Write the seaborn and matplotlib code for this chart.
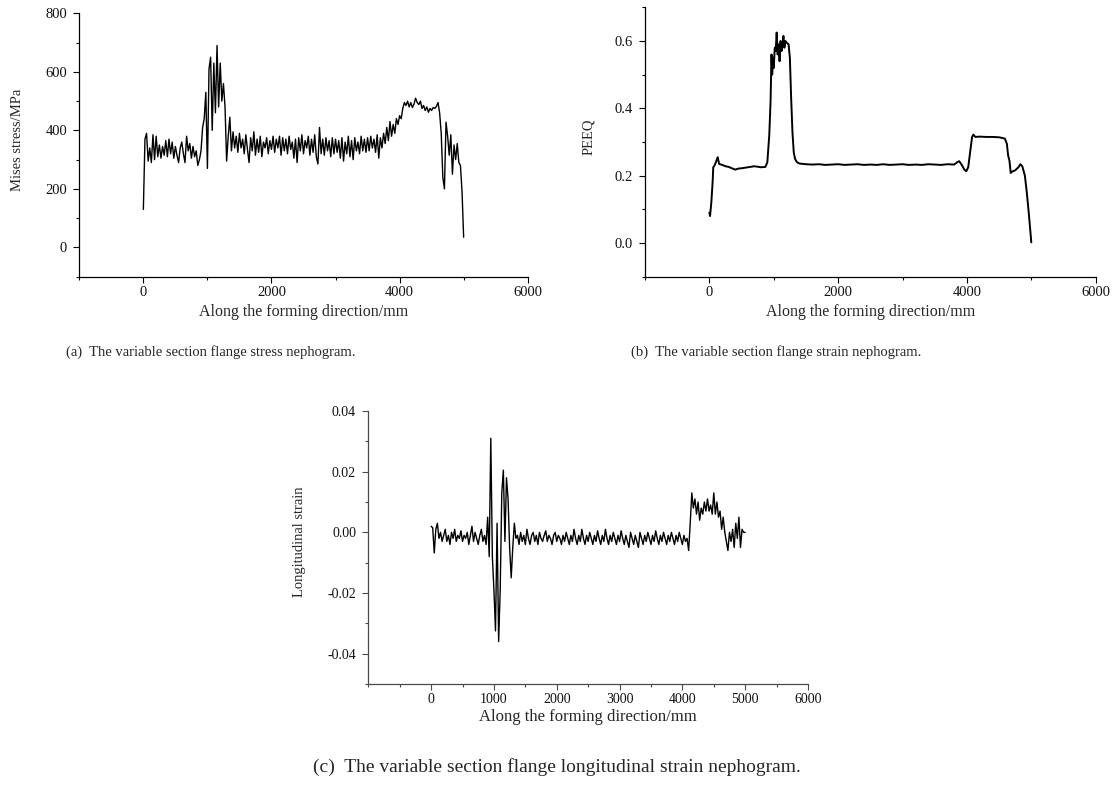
import matplotlib
matplotlib.use("Agg")
import matplotlib.pyplot as plt
import seaborn as sns
from matplotlib.ticker import MultipleLocator, FixedLocator, FormatStrFormatter

# Stations along the forming direction (mm), shared by stress and longitudinal strain
stations_mm = [
    0, 25, 50, 75, 100, 125, 150, 175, 200, 225, 250, 275, 300, 325, 350, 375, 400, 425, 450, 475,
    500, 525, 550, 575, 600, 625, 650, 675, 700, 725, 750, 775, 800, 825, 850, 875, 900, 925, 950, 975,
    1000, 1025, 1050, 1075, 1100, 1125, 1150, 1175, 1200, 1225, 1250, 1275, 1300, 1325, 1350, 1375, 1400, 1425, 1450, 1475,
    1500, 1525, 1550, 1575, 1600, 1625, 1650, 1675, 1700, 1725, 1750, 1775, 1800, 1825, 1850, 1875, 1900, 1925, 1950, 1975,
    2000, 2025, 2050, 2075, 2100, 2125, 2150, 2175, 2200, 2225, 2250, 2275, 2300, 2325, 2350, 2375, 2400, 2425, 2450, 2475,
    2500, 2525, 2550, 2575, 2600, 2625, 2650, 2675, 2700, 2725, 2750, 2775, 2800, 2825, 2850, 2875, 2900, 2925, 2950, 2975,
    3000, 3025, 3050, 3075, 3100, 3125, 3150, 3175, 3200, 3225, 3250, 3275, 3300, 3325, 3350, 3375, 3400, 3425, 3450, 3475,
    3500, 3525, 3550, 3575, 3600, 3625, 3650, 3675, 3700, 3725, 3750, 3775, 3800, 3825, 3850, 3875, 3900, 3925, 3950, 3975,
    4000, 4025, 4050, 4075, 4100, 4125, 4150, 4175, 4200, 4225, 4250, 4275, 4300, 4325, 4350, 4375, 4400, 4425, 4450, 4475,
    4500, 4525, 4550, 4575, 4600, 4625, 4650, 4675, 4700, 4725, 4750, 4775, 4800, 4825, 4850, 4875, 4900, 4925, 4950, 4975,
    5000,
]

# (a) Mises stress, MPa
mises_mpa = [
    130, 370, 390, 295, 340, 290, 385, 300, 380, 310, 350, 305, 345, 315, 365, 310, 370, 320, 360, 305,
    345, 315, 290, 340, 360, 320, 290, 380, 330, 355, 305, 345, 310, 330, 280, 300, 330, 410, 440, 530,
    270, 610, 650, 400, 630, 460, 690, 480, 630, 500, 560, 480, 295, 380, 445, 330, 395, 340, 380, 325,
    390, 340, 370, 320, 385, 335, 290, 375, 330, 395, 315, 370, 325, 380, 310, 360, 340, 375, 320, 365,
    335, 380, 325, 370, 340, 380, 315, 375, 330, 370, 320, 380, 335, 360, 305, 370, 290, 375, 330, 385,
    320, 365, 340, 380, 315, 370, 325, 385, 310, 285, 410, 320, 370, 315, 375, 330, 365, 310, 375, 320,
    370, 325, 365, 305, 375, 295, 360, 320, 380, 310, 365, 300, 375, 330, 360, 320, 380, 330, 370, 325,
    375, 330, 380, 340, 370, 325, 385, 305, 375, 340, 390, 355, 410, 365, 430, 380, 420, 390, 440, 420,
    450, 440, 475, 495, 485, 500, 480, 495, 478, 490, 510, 495, 488, 500, 475, 485, 468, 480, 462, 475,
    468, 478, 475, 482, 495, 460, 390, 240, 200, 428, 380, 315, 385, 250, 350, 300, 355, 290, 280, 190,
    35,
]

# (c) Longitudinal strain
long_strain = [
    0.002, 0.0015, -0.0068, 0.001, 0.003, -0.002, 0.0, -0.003, -0.001, 0.001, -0.003, -0.001, -0.004, 0.0, -0.002, 0.001, -0.003, -0.001, -0.002, 0.0005,
    -0.003, -0.001, -0.002, 0.0, -0.004, -0.001, 0.002, -0.003, 0.0, -0.002, -0.004, -0.001, 0.001, -0.003, -0.001, -0.004, 0.005, -0.008, 0.031, -0.008,
    -0.019, -0.0325, 0.003, -0.036, -0.019, 0.013, 0.0205, -0.003, 0.018, 0.011, -0.005, -0.015, -0.005, 0.003, -0.002, -0.001, -0.004, 0.0, -0.003, -0.001,
    -0.004, 0.001, -0.002, -0.004, -0.001, 0.0, -0.003, -0.001, -0.004, 0.0, -0.002, -0.003, -0.001, 0.0005, -0.003, -0.001, -0.002, -0.004, -0.001, 0.0,
    -0.003, -0.001, -0.002, -0.004, -0.001, -0.003, 0.0, -0.002, -0.004, -0.001, -0.003, 0.001, -0.002, -0.004, -0.001, -0.003, 0.001, -0.002, -0.004, -0.001,
    -0.003, 0.0, -0.002, -0.004, -0.001, -0.003, 0.0005, -0.002, -0.004, -0.001, -0.003, 0.001, -0.002, -0.004, -0.001, -0.003, 0.0, -0.002, -0.004, -0.001,
    -0.003, 0.0005, -0.002, -0.004, -0.001, -0.003, -0.005, 0.0, -0.002, -0.004, -0.001, -0.003, -0.005, 0.0, -0.002, -0.004, -0.001, -0.003, 0.0, -0.002,
    -0.004, -0.001, -0.003, 0.0005, -0.002, -0.004, -0.001, -0.003, 0.0, -0.002, -0.004, -0.001, -0.003, 0.0, -0.002, -0.004, -0.001, -0.003, 0.0, -0.002,
    -0.004, -0.001, -0.003, -0.002, -0.006, 0.003, 0.013, 0.008, 0.011, 0.006, 0.010, 0.004, 0.008, 0.006, 0.010, 0.007, 0.011, 0.007, 0.009, 0.006,
    0.013, 0.006, 0.010, 0.005, 0.007, 0.001, 0.005, 0.0, -0.003, -0.006, 0.0, -0.003, 0.001, -0.005, 0.003, -0.002, 0.005, -0.005, 0.001, 0.0,
    0.0,
]

# (b) PEEQ, sampled on its own stations
peeq_mm = [
    0, 10, 30, 50, 60, 80, 100, 130, 150, 200, 250, 300, 350, 400, 450, 500, 600, 700, 800, 870,
    900, 930, 950, 965, 975, 990, 1000, 1015, 1030, 1045, 1060, 1075, 1090, 1105, 1120, 1135, 1150, 1165, 1180, 1200,
    1230, 1250, 1270, 1290, 1310, 1330, 1360, 1400, 1500, 1600, 1700, 1800, 1900, 2000, 2100, 2200, 2300, 2400, 2500, 2600,
    2700, 2800, 2900, 3000, 3100, 3200, 3300, 3400, 3500, 3600, 3700, 3800, 3850, 3880, 3920, 3960, 3990, 4020, 4050, 4080,
    4100, 4130, 4200, 4300, 4400, 4500, 4590, 4620, 4640, 4660, 4680, 4700, 4750, 4800, 4830, 4860, 4900, 4930, 4960, 5000,
]
peeq = [
    0.09, 0.08, 0.12, 0.18, 0.225, 0.23, 0.24, 0.255, 0.235, 0.232, 0.228, 0.226, 0.222, 0.218, 0.221, 0.222, 0.225, 0.228, 0.225, 0.226,
    0.24, 0.32, 0.42, 0.56, 0.5, 0.55, 0.52, 0.58, 0.57, 0.625, 0.56, 0.59, 0.54, 0.6, 0.57, 0.59, 0.615, 0.58, 0.6, 0.595,
    0.59, 0.55, 0.43, 0.33, 0.27, 0.25, 0.24, 0.236, 0.234, 0.233, 0.234, 0.232, 0.233, 0.234, 0.232, 0.233, 0.234, 0.232, 0.233, 0.232,
    0.234, 0.232, 0.233, 0.234, 0.232, 0.233, 0.232, 0.234, 0.233, 0.232, 0.234, 0.233, 0.24, 0.243, 0.232, 0.218, 0.213, 0.225, 0.27, 0.315,
    0.322, 0.315, 0.316, 0.315, 0.315, 0.314, 0.31, 0.295, 0.26, 0.245, 0.208, 0.212, 0.216, 0.225, 0.234, 0.228, 0.2, 0.15, 0.09, 0.002,
]

XLABEL = "Along the forming direction/mm"
CAPTIONS = [
    "(a)  The variable section flange stress nephogram.",
    "(b)  The variable section flange strain nephogram.",
    "(c)  The variable section flange longitudinal strain nephogram.",
]

sns.set_style("ticks")
plt.rcParams["font.family"] = ["Liberation Serif", "DejaVu Serif"]
plt.rcParams["axes.unicode_minus"] = False

fig = plt.figure(figsize=(11.16, 7.85), dpi=100)
W, H = 1116, 785


def make_axes(left, top, right, bottom):
    return fig.add_axes([left / W, 1 - bottom / H, (right - left) / W, (bottom - top) / H])


def style_axes(ax, spine_color="black"):
    for side in ["top", "right"]:
        ax.spines[side].set_visible(False)
    for side in ["left", "bottom"]:
        ax.spines[side].set_color(spine_color)
        ax.spines[side].set_linewidth(0.9)
    ax.tick_params(which="major", direction="out", length=4.3, width=0.8,
                   color=spine_color, labelsize=10.5, labelcolor="#111111")
    ax.tick_params(which="minor", direction="out", length=2.2, width=0.8, color=spine_color)
    ax.tick_params(axis="y", which="major", pad=4.5)
    ax.tick_params(axis="x", which="major", pad=2.5)


# (a) stress
ax_a = make_axes(79.3, 13.3, 527.7, 276.7)
sns.lineplot(x=stations_mm, y=mises_mpa, ax=ax_a, color="black", linewidth=1.0,
             estimator=None, sort=False)
ax_a.set_xlim(-1000, 6000)
ax_a.set_ylim(-100, 800)
ax_a.xaxis.set_major_locator(FixedLocator([0, 2000, 4000, 6000]))
ax_a.xaxis.set_minor_locator(MultipleLocator(1000))
ax_a.yaxis.set_major_locator(FixedLocator([0, 200, 400, 600, 800]))
ax_a.yaxis.set_minor_locator(MultipleLocator(100))
style_axes(ax_a)
ax_a.set_xlabel(XLABEL, fontsize=11.5, va="center")
ax_a.set_ylabel("Mises stress/MPa", fontsize=10.5, va="center")
ax_a.xaxis.set_label_coords(0.5, -0.133)
ax_a.yaxis.set_label_coords(-0.137, 0.52)

# (b) PEEQ
ax_b = make_axes(645, 7.3, 1095.7, 276.7)
sns.lineplot(x=peeq_mm, y=peeq, ax=ax_b, color="black", linewidth=1.4,
             estimator=None, sort=False)
ax_b.set_xlim(-1000, 6000)
ax_b.set_ylim(-0.1, 0.7)
ax_b.xaxis.set_major_locator(FixedLocator([0, 2000, 4000, 6000]))
ax_b.xaxis.set_minor_locator(MultipleLocator(1000))
ax_b.yaxis.set_major_locator(FixedLocator([0.0, 0.2, 0.4, 0.6]))
ax_b.yaxis.set_minor_locator(MultipleLocator(0.1))
ax_b.yaxis.set_major_formatter(FormatStrFormatter("%.1f"))
style_axes(ax_b)
ax_b.set_xlabel(XLABEL, fontsize=11.5, va="center")
ax_b.set_ylabel("PEEQ", fontsize=10.5, va="center")
ax_b.xaxis.set_label_coords(0.5, -0.13)
ax_b.yaxis.set_label_coords(-0.125, 0.52)

# (c) longitudinal strain
ax_c = make_axes(368.3, 411, 808, 684)
sns.lineplot(x=stations_mm, y=long_strain, ax=ax_c, color="black", linewidth=1.0,
             estimator=None, sort=False)
ax_c.set_xlim(-1000, 6000)
ax_c.set_ylim(-0.05, 0.04)
ax_c.xaxis.set_major_locator(FixedLocator([0, 1000, 2000, 3000, 4000, 5000, 6000]))
ax_c.xaxis.set_minor_locator(MultipleLocator(500))
ax_c.yaxis.set_major_locator(FixedLocator([-0.04, -0.02, 0.0, 0.02, 0.04]))
ax_c.yaxis.set_minor_locator(MultipleLocator(0.01))
ax_c.yaxis.set_major_formatter(FormatStrFormatter("%.2f"))
style_axes(ax_c, spine_color="#4a4a4a")
ax_c.tick_params(labelsize=10)
ax_c.set_xlabel(XLABEL, fontsize=12, va="center")
ax_c.set_ylabel("Longitudinal strain", fontsize=10.5, va="center")
ax_c.xaxis.set_label_coords(0.5, -0.121)
ax_c.yaxis.set_label_coords(-0.156, 0.52)

# captions
fig.text(211 / W, 1 - 352 / H, CAPTIONS[0], ha="center", va="center", fontsize=10.5)
fig.text(776 / W, 1 - 352 / H, CAPTIONS[1], ha="center", va="center", fontsize=10.5)
fig.text(557 / W, 1 - 767 / H, CAPTIONS[2], ha="center", va="center", fontsize=14)

fig.savefig("out.png", dpi=100)
